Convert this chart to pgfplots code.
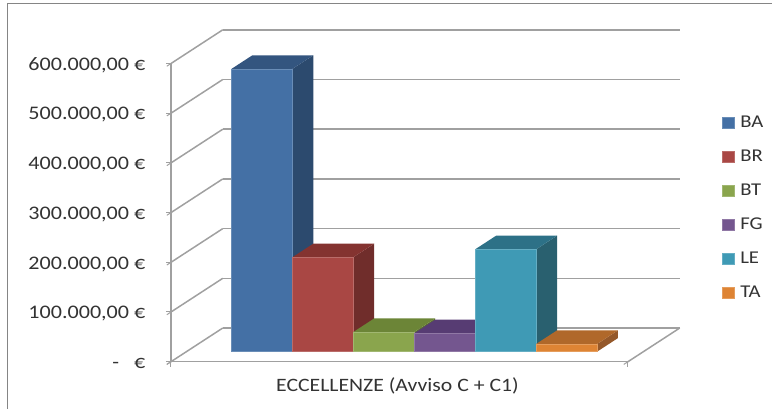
\documentclass[border=0pt]{standalone}
\usepackage{pgfplots}
\pgfplotsset{compat=1.18}
\usepackage{fontspec}
\setmainfont{Carlito}
\newfontfamily\wide[FakeStretch=1.15]{Carlito}
\definecolor{gridgray}{HTML}{A0A0A0}
\definecolor{frameg}{HTML}{858585}
\definecolor{textg}{HTML}{333333}
\definecolor{baF}{HTML}{4470A5}\definecolor{baS}{HTML}{2C4A6E}\definecolor{baT}{HTML}{33557F}
\definecolor{brF}{HTML}{A94744}\definecolor{brS}{HTML}{702D2B}\definecolor{brT}{HTML}{843330}
\definecolor{btF}{HTML}{8AA54D}\definecolor{btS}{HTML}{5C6E33}\definecolor{btT}{HTML}{6C8537}
\definecolor{fgF}{HTML}{74568F}\definecolor{fgS}{HTML}{4C3860}\definecolor{fgT}{HTML}{573C73}
\definecolor{leF}{HTML}{3F9AB5}\definecolor{leS}{HTML}{29606F}\definecolor{leT}{HTML}{2D7187}
\definecolor{taF}{HTML}{DE8434}\definecolor{taS}{HTML}{94582A}\definecolor{taT}{HTML}{B0682A}
% One 3D column: right side, top, then front face (the only one in the legend).
\newcommand{\column}[4]{%
  \addplot3[fill=#3S,draw=none,forget plot] coordinates {(#1+1,0.3,0)(#1+1,0.7,0)(#1+1,0.7,#2)(#1+1,0.3,#2)} --cycle;
  \addplot3[fill=#3T,draw=none,forget plot] coordinates {(#1,0.3,#2)(#1+1,0.3,#2)(#1+1,0.7,#2)(#1,0.7,#2)} --cycle;
  \addplot3[fill=#3F,draw=#3F!80!white,line width=0.5pt] coordinates {(#1,0.3,0)(#1+1,0.3,0)(#1+1,0.3,#2)(#1,0.3,#2)} --cycle;
  \addlegendentry{#4}}
\begin{document}
\begin{tikzpicture}[x=1pt,y=1pt]
\useasboundingbox (0,0) rectangle (772,409);
\draw[frameg,line width=1.1pt] (7.5,0) -- (7.5,405.7) -- (772,405.7);
\begin{axis}[
  at={(171pt,47.3pt)},anchor=origin,
  x={(60.93pt,0pt)},y={(51.8pt,33.7pt)},z={(0pt,0.497pt)},
  xmin=0,xmax=7.5,ymin=0,ymax=1,zmin=0,zmax=600,
  axis lines*=left,
  axis line style={gridgray,line width=1.5pt},
  xtick={0,7.5},xticklabels={},ytick=\empty,
  ztick={0,100,200,300,400,500,600},
  zticklabels={-\ \ \ €,{100.000,00 €},{200.000,00 €},{300.000,00 €},{400.000,00 €},{500.000,00 €},{600.000,00 €}},
  xmajorgrids=false,ymajorgrids=false,zmajorgrids=true,
  major grid style={gridgray,line width=1.5pt},
  tick align=outside,major tick length=5pt,
  tick style={gridgray,line width=1pt},
  z tick label style={font=\wide\fontsize{19.2}{19.2}\selectfont,color=textg,anchor=east,xshift=-18pt,yshift=1pt},
  xlabel={ECCELLENZE (Avviso C + C1)},
  x label style={at={(axis cs:3.75,0,0)},anchor=center,xshift=-2pt,yshift=-24pt,font=\wide\fontsize{18.9}{18.9}\selectfont,color=textg},
  legend image code/.code={\path[draw=none,fill=none] (0pt,0pt) -- (18pt,0pt);\fill[#1] (0pt,-5.5pt) rectangle (12pt,5.5pt);},
  legend style={draw=none,fill=none,inner sep=0pt,at={(axis cs:9.04,0,502)},anchor=north west,
    font=\wide\fontsize{18}{18}\selectfont,text=textg,row sep=14pt,
    nodes={inner sep=0pt,anchor=west,minimum height=20pt}},
  legend cell align=left,
  clip=false,
]
\column{0.74+0}{569}{ba}{BA}
\column{0.74+1}{190}{br}{BR}
\column{0.74+2}{39.6}{bt}{BT}
\column{0.74+3}{37}{fg}{FG}
\column{0.74+4}{206}{le}{LE}
\column{0.74+5}{15.5}{ta}{TA}
\end{axis}
\end{tikzpicture}
\end{document}
